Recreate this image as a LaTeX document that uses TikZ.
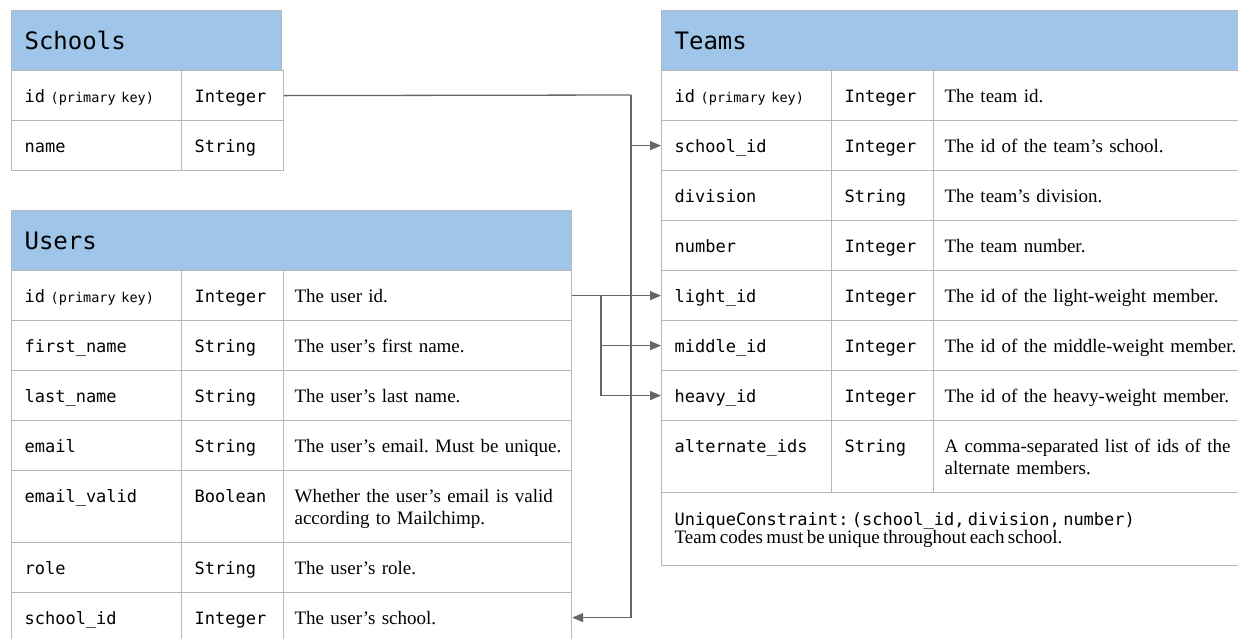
\documentclass[tikz,border=0pt]{standalone}
\usepackage{fontspec}
\setmainfont{Liberation Serif}
\setmonofont{DejaVu Sans Mono}
\usetikzlibrary{arrows.meta}

\definecolor{headblue}{HTML}{9FC5E8}
\definecolor{gridline}{HTML}{B7B7B7}
\definecolor{linkgray}{HTML}{666666}

\newcommand{\keyfont}{\fontsize{17}{22}\selectfont\ttfamily}
\newcommand{\descfont}{\fontsize{19}{22}\selectfont\rmfamily}
\newcommand{\pk}{{\fontsize{13.5}{16}\selectfont (primary key)}}

\frenchspacing
\hyphenpenalty=10000
\exhyphenpenalty=10000

\begin{document}
\begin{tikzpicture}[x=1pt, y=-1pt,
    cell/.style={draw=gridline, line width=1.2pt, anchor=north west, inner xsep=13pt, inner ysep=0pt,
      minimum height=50pt, text height=16pt, text depth=2pt, align=left},
    head/.style={cell, fill=headblue, minimum height=60pt, text height=20pt, text depth=2pt,
      font=\fontsize{24}{28}\selectfont\ttfamily},
    key/.style={cell, text width=144pt, font=\keyfont},
    type/.style={cell, text width=76pt, font=\keyfont},
    desc/.style={cell, inner xsep=11pt, text width=266pt, font=\descfont},
    wide/.style={text width=295pt},
    tall/.style={minimum height=72pt, text depth=24pt},
    link/.style={draw=linkgray, line width=1.3pt},
    fk/.style={link, -{Triangle[length=11pt, width=9pt]}}
]
\useasboundingbox[fill=white] (0,0) rectangle (1238,638);

% Schools table
\node[head, text width=244pt] at (11,10) (s-head) {Schools};
\node[key] at (11,70) (s-id-k) {id \pk};
\node[type] at (181,70) (s-id-t) {Integer};
\node[key] at (11,120) (s-name-k) {name};
\node[type] at (181,120) (s-name-t) {String};

% Users table
\node[head, text width=534pt] at (11,210) (u-head) {Users};
\node[key] at (11,270) (u-id-k) {id \pk};
\node[type] at (181,270) (u-id-t) {Integer};
\node[desc] at (283,270) (u-id-d) {The user id.};
\node[key] at (11,320) (u-first-k) {first\_name};
\node[type] at (181,320) (u-first-t) {String};
\node[desc] at (283,320) (u-first-d) {The user’s first name.};
\node[key] at (11,370) (u-last-k) {last\_name};
\node[type] at (181,370) (u-last-t) {String};
\node[desc] at (283,370) (u-last-d) {The user’s last name.};
\node[key] at (11,420) (u-mail-k) {email};
\node[type] at (181,420) (u-mail-t) {String};
\node[desc] at (283,420) (u-mail-d) {The user’s email. Must be unique.};
\node[key, tall] at (11,470) (u-valid-k) {email\_valid};
\node[type, tall] at (181,470) (u-valid-t) {Boolean};
\node[desc, tall] at (283,470) (u-valid-d) {Whether the user’s email is valid\\according to Mailchimp.};
\node[key] at (11,542) (u-role-k) {role};
\node[type] at (181,542) (u-role-t) {String};
\node[desc] at (283,542) (u-role-d) {The user’s role.};
\node[key] at (11,592) (u-sch-k) {school\_id};
\node[type] at (181,592) (u-sch-t) {Integer};
\node[desc] at (283,592) (u-sch-d) {The user’s school.};

% Teams table
\node[head, text width=563pt] at (661,10) (t-head) {Teams};
\node[key] at (661,70) (t-id-k) {id \pk};
\node[type] at (831,70) (t-id-t) {Integer};
\node[desc, wide] at (933,70) (t-id-d) {The team id.};
\node[key] at (661,120) (t-sch-k) {school\_id};
\node[type] at (831,120) (t-sch-t) {Integer};
\node[desc, wide] at (933,120) (t-sch-d) {The id of the team’s school.};
\node[key] at (661,170) (t-div-k) {division};
\node[type] at (831,170) (t-div-t) {String};
\node[desc, wide] at (933,170) (t-div-d) {The team’s division.};
\node[key] at (661,220) (t-num-k) {number};
\node[type] at (831,220) (t-num-t) {Integer};
\node[desc, wide] at (933,220) (t-num-d) {The team number.};
\node[key] at (661,270) (t-lt-k) {light\_id};
\node[type] at (831,270) (t-lt-t) {Integer};
\node[desc, wide] at (933,270) (t-lt-d) {The id of the light-weight member.};
\node[key] at (661,320) (t-md-k) {middle\_id};
\node[type] at (831,320) (t-md-t) {Integer};
\node[desc, wide] at (933,320) (t-md-d) {The id of the middle-weight member.};
\node[key] at (661,370) (t-hv-k) {heavy\_id};
\node[type] at (831,370) (t-hv-t) {Integer};
\node[desc, wide] at (933,370) (t-hv-d) {The id of the heavy-weight member.};
\node[key, tall] at (661,420) (t-alt-k) {alternate\_ids};
\node[type, tall] at (831,420) (t-alt-t) {String};
\node[desc, wide, tall] at (933,420) (t-alt-d) {A comma-separated list of ids of the\\alternate members.};
\node[cell, tall, minimum height=73pt, text width=563pt] at (661,492) (t-note)
  {{\keyfont UniqueConstraint: (school\_id, division, number)}\\{\descfont Team codes must be unique throughout each school.}};

% school id references
\coordinate (jct1) at (631,95);
\draw[link] (s-id-t.east) -- (jct1);
\draw[fk] (jct1) |- (u-sch-d.east);
\draw[fk] (jct1 |- t-sch-k.west) -- (t-sch-k.west);

% user id references
\coordinate (jct2) at (601,295);
\draw[fk] (u-id-d.east) -- (t-lt-k.west);
\draw[fk] (jct2) |- (t-hv-k.west);
\draw[fk] (jct2 |- t-md-k.west) -- (t-md-k.west);

\end{tikzpicture}
\end{document}
